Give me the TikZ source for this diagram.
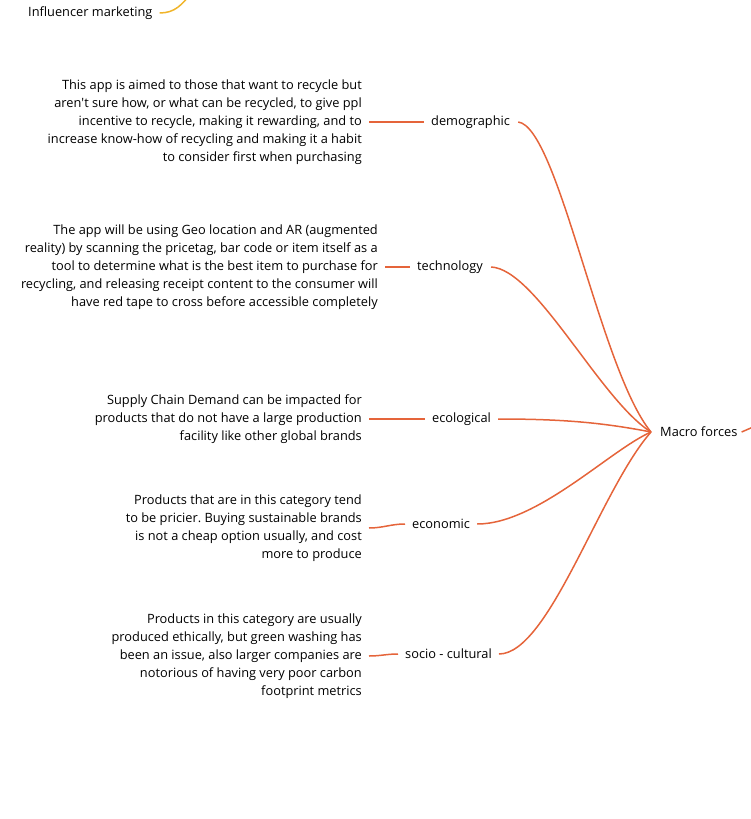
\documentclass[tikz,border=0pt]{standalone}
\usepackage{fontspec}
\setmainfont{Open Sans}
\usepackage{tikz}
\usetikzlibrary{positioning}
\definecolor{branch}{HTML}{E5643A}
\definecolor{influ}{HTML}{F0B429}
\frenchspacing

\begin{document}
\begin{tikzpicture}[x=1pt, y=-1pt, every node/.style={font=\fontsize{12.8}{18}\selectfont, inner sep=0pt, text=black},
  note/.style={anchor=east, align=right},
  topic/.style={anchor=west},
  link/.style={draw=branch, line width=1.5pt}]
\useasboundingbox (0,0) rectangle (750,819);
\node (infl) [anchor=west] at (28,13) {Influencer marketing};
\node (macro) [anchor=west] at (660,432) {Macro forces};
\node (demo) [topic] at (431,122) {demographic};
\node (tech) [topic] at (417,267) {technology};
\node (eco) [topic] at (432,419) {ecological};
\node (econ) [topic] at (412,524) {economic};
\node (socio) [topic] at (405,654) {socio - cultural};
\node (demotxt) [note] at (362,122) {This app is aimed to those that want to recycle but\\aren\textquotesingle t sure how, or what can be recycled, to give ppl\\incentive to recycle, making it rewarding, and to\\increase know-how of recycling and making it a habit\\to consider first when purchasing};
\node (techtxt) [note] at (378,267) {The app will be using Geo location and AR (augmented\\reality) by scanning the pricetag, bar code or item itself as a\\tool to determine what is the best item to purchase for\\recycling, and releasing receipt content to the consumer will\\have red tape to cross before accessible completely};
\node (ecotxt) [note] at (362,419) {Supply Chain Demand can be impacted for\\products that do not have a large production\\facility like other global brands};
\node (econtxt) [note] at (362,528) {Products that are in this category tend\\to be pricier. Buying sustainable brands\\is not a cheap option usually, and cost\\more to produce};
\node (sociotxt) [note] at (362,656) {Products in this category are usually\\produced ethically, but green washing has\\been an issue, also larger companies are\\notorious of having very poor carbon\\footprint metrics};
\coordinate (hub) at (651,432);
\coordinate (offright) at (760,424);
\coordinate (offtop) at (192,-8);
% branches to the hub
\draw[link] ([xshift=8pt]demo.east) .. controls +(40,5) and (600,370) .. (hub);
\draw[link] ([xshift=8pt]tech.east) .. controls +(45,2) and (600,400) .. (hub);
\draw[link] ([xshift=7pt]eco.east) .. controls +(60,0) and (600,422) .. (hub);
\draw[link] ([xshift=7pt]econ.east) .. controls +(60,0) and (610,450) .. (hub);
\draw[link] ([xshift=7pt]socio.east) .. controls +(50,0) and (600,490) .. (hub);
\draw[link] ([xshift=4pt]macro.east) -- (offright);
% notes
\draw[link] ([xshift=7pt]demotxt.east) -- ([xshift=-7pt]demo.west);
\draw[link] ([xshift=7pt]techtxt.east) -- ([xshift=-7pt]tech.west);
\draw[link] ([xshift=7pt]ecotxt.east) -- ([xshift=-7pt]eco.west);
\draw[link] ([xshift=7pt]econtxt.east) to[out=0,in=180] ([xshift=-7pt]econ.west);
\draw[link] ([xshift=7pt]sociotxt.east) to[out=0,in=180] ([xshift=-7pt]socio.west);
\draw[draw=influ, line width=1.5pt] ([xshift=7pt]infl.east) .. controls +(15,0) and (182,5) .. (offtop);
\end{tikzpicture}
\end{document}
